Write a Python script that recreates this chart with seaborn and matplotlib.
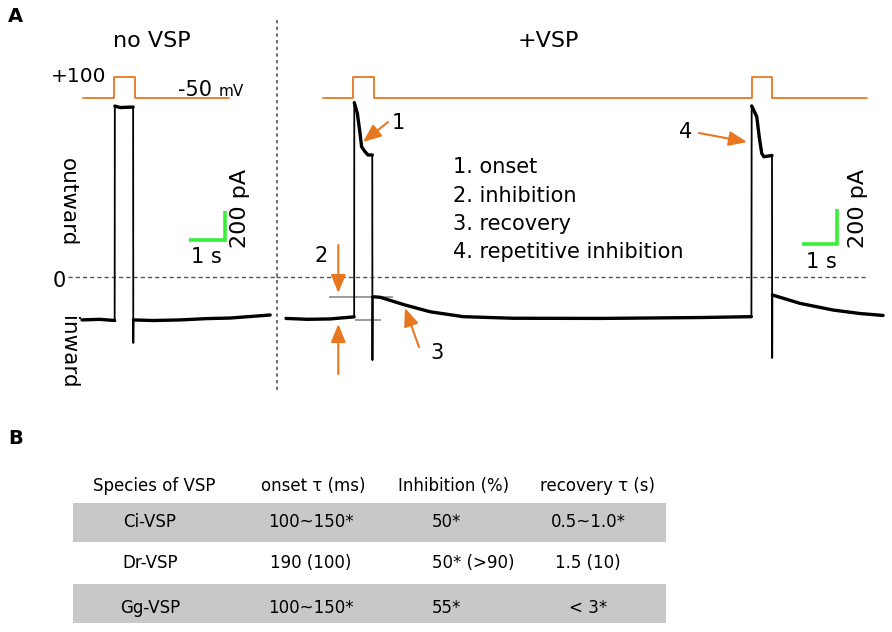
import matplotlib
matplotlib.use("Agg")
import matplotlib.pyplot as plt
import seaborn as sns

# --- Trace data (time in s, current in pA, voltage in mV) ---
no_vsp_t = [0.00, 0.50, 0.92, 0.925, 1.07, 1.44, 1.445, 1.45, 2.00, 2.76, 3.50, 4.17, 5.30]
no_vsp_i = [-294, -290, -298, 1181, 1171, 1174, -453, -294, -298, -294, -285, -281, -260]

vsp_t = [0.00, 0.60, 1.24, 1.92, 1.924, 2.01, 2.085, 2.13, 2.225, 2.31, 2.43, 2.435, 2.44,
         2.65, 3.35, 4.06, 4.99, 6.39, 8.85, 11.66, 13.11, 13.118, 13.26, 13.33, 13.40,
         13.46, 13.69, 13.695, 13.70, 14.48, 15.41, 16.17, 16.82]
vsp_i = [-235, -240, -238, -226, 998, 937, 823, 746, 718, 699, 699, -473, -111,
         -114, -158, -197, -225, -234, -235, -230, -225, 979, 918, 803, 709,
         689, 696, -461, -101, -149, -187, -207, -218]

no_vsp_v_t = [0.03, 0.91, 0.91, 1.49, 1.49, 4.14]
no_vsp_v = [-50, -50, 100, 100, -50, -50]
vsp_v_t = [1.03, 1.896, 1.896, 2.479, 2.479, 13.118, 13.118, 13.699, 13.699, 16.36]
vsp_v = [-50, -50, 100, 100, -50, -50, 100, 100, -50, -50]

# inhibition levels marked by the grey lines (pA): tail level, baseline level
inhib_levels = [-111, -244]

legend_items = ["1. onset", "2. inhibition", "3. recovery", "4. repetitive inhibition"]

# --- Table data ---
table_headers = ["Species of VSP", "onset \u03c4 (ms)", "Inhibition (%)", "recovery \u03c4 (s)"]
species = ["Ci-VSP", "Dr-VSP", "Gg-VSP"]
onset_tau = ["100~150*", "190 (100)", "100~150*"]
inhibition = ["50*", "50* (>90)", "55*"]
recovery_tau = ["0.5~1.0*", "1.5 (10)", "< 3*"]

# --- Style ---
ORANGE = "#E87722"
GREEN = "#38EF38"
DASH_GREY = "#555555"
W, H = 892, 632

sns.set_theme(style="white")
plt.rcParams["font.family"] = ["DejaVu Sans"]
plt.rcParams["text.color"] = "black"


def place_axes(fig, box, x0, px_per_s, y0, px_per_unit):
    """Axes over a pixel box, scaled so t=0 sits at x0 and 0 sits at y0."""
    left, top, right, bottom = box
    ax = fig.add_axes([left / W, 1 - bottom / H, (right - left) / W, (bottom - top) / H])
    ax.set_facecolor("none")
    return ax, ((left - x0) / px_per_s, (right - x0) / px_per_s), \
        ((y0 - bottom) / px_per_unit, (y0 - top) / px_per_unit)


def noisy_runs(t, min_dt=0.02):
    # group the slow parts of a trace (not the step edges)
    runs, cur = [], [0]
    for k in range(1, len(t)):
        if t[k] - t[k - 1] > min_dt:
            cur.append(k)
        else:
            if len(cur) > 1:
                runs.append(cur)
            cur = [k]
    if len(cur) > 1:
        runs.append(cur)
    return runs


def draw_trace(ax, t, i):
    sns.lineplot(x=t, y=i, sort=False, estimator=None, ax=ax, color="black", lw=1.3)
    for run in noisy_runs(t):
        sns.lineplot(x=[t[k] for k in run], y=[i[k] for k in run], sort=False,
                     estimator=None, ax=ax, color="black", lw=2.4)


def draw_panel(fig, box, x0, pA_scale, t, i, vt, v, zero_span, bar_at):
    ax, xl, yl = place_axes(fig, box, x0, 35.5, 277.3, pA_scale)
    ax.hlines(0, zero_span[0], zero_span[1], color=DASH_GREY, lw=1.0,
              linestyles=(0, (3, 2.2)), zorder=1)
    draw_trace(ax, t, i)
    bx, by = bar_at
    ax.plot([bx, bx + 1, bx + 1], [by, by, by + 200], color=GREEN, lw=2.6,
            solid_joinstyle="miter", solid_capstyle="butt")
    ax.set_xlim(*xl)
    ax.set_ylim(*yl)
    ax.axis("off")

    axv = ax.twinx()
    sns.lineplot(x=vt, y=v, sort=False, estimator=None, ax=axv, color=ORANGE, lw=1.3)
    left, top, right, bottom = box
    axv.set_ylim(-50 + (98.3 - bottom) / 0.1387, -50 + (98.3 - top) / 0.1387)
    axv.axis("off")
    return ax


fig = plt.figure(figsize=(W / 100, H / 100), dpi=100)

ax_left = draw_panel(fig, (55, 55, 276, 400), 82, 0.145, no_vsp_t, no_vsp_i,
                     no_vsp_v_t, no_vsp_v, (-0.39, 5.46), (3.02, 257))
ax_right = draw_panel(fig, (276, 55, 892, 400), 286, 0.175, vsp_t, vsp_i,
                      vsp_v_t, vsp_v, (-0.28, 16.37), (14.53, 190))

# grey lines marking the inhibition
ax_right.hlines(inhib_levels[0], 1.22, 3.02, color="#8a8a8a", lw=1.2, zorder=1)
ax_right.hlines(inhib_levels[1], 1.944, 2.668, color="#8a8a8a", lw=1.2, zorder=1)

# --- Overlay in pixel coordinates for labels, arrows and the table ---
ov = fig.add_axes([0, 0, 1, 1])
ov.set_xlim(0, W)
ov.set_ylim(H, 0)
ov.axis("off")

ov.plot([276.7, 276.7], [20, 392], color=DASH_GREY, lw=1.2, ls=(0, (2, 2)))

ov.text(15, 17, "A", fontsize=14, fontweight="bold", ha="center", va="center")
ov.text(16, 438, "B", fontsize=14, fontweight="bold", ha="center", va="center")
ov.text(152, 47, "no VSP", fontsize=16, ha="center", va="baseline")
ov.text(548, 47, "+VSP", fontsize=16, ha="center", va="baseline")
ov.text(79, 82, "+100", fontsize=14.5, ha="center", va="baseline")
ov.text(212, 96.5, "-50", fontsize=15, ha="right", va="baseline")
ov.text(219, 96.5, "mV", fontsize=11, ha="left", va="baseline")
ov.text(68, 202, "outward", fontsize=15.5, rotation=270, ha="center", va="center")
ov.text(68, 352, "inward", fontsize=15.5, rotation=270, ha="center", va="center")
ov.text(59, 287, "0", fontsize=15, ha="center", va="baseline")

for sx, sy in [(206, 263), (821, 268)]:
    ov.text(sx, sy, "1 s", fontsize=15, ha="center", va="baseline")
for px_, py_ in [(240, 208), (858, 208)]:
    ov.text(px_, py_, "200 pA", fontsize=16, rotation=90, ha="center", va="center")

for k, item in enumerate(legend_items):
    ov.text(453, 173.3 + 28.3 * k, item, fontsize=15, ha="left", va="baseline")

for label, (lx, ly) in zip(["1", "2", "3", "4"],
                           [(398, 123), (321, 256), (437, 353), (686, 132.5)]):
    ov.text(lx, ly, label, fontsize=15, ha="center", va="center")

arrow_kw = dict(arrowstyle="-|>,head_length=1.1,head_width=0.45", color=ORANGE,
                lw=1.5, shrinkA=0, shrinkB=0, mutation_scale=10)
for tail, tip in [((388, 122), (363, 142)), ((338.3, 245), (338.3, 293)),
                  ((338.3, 374), (338.3, 324)), ((419, 347), (405, 308)),
                  ((699, 133), (747, 142))]:
    ov.annotate("", xy=tip, xytext=tail, arrowprops=arrow_kw)

# --- Table B ---
row_base = [526.7, 568.3, 612.7]
for top, bottom in [(502.7, 541.7), (584.3, 623.3)]:
    ov.fill_between([73.3, 666], top, bottom, color="#C8C8C8", lw=0)

for hx, head in zip([154, 313, 454, 597], table_headers):
    ov.text(hx, 491, head, fontsize=12, ha="center", va="baseline")

for r in range(len(species)):
    ov.text(150, row_base[r], species[r], fontsize=12, ha="center", va="baseline")
    ov.text(311, row_base[r], onset_tau[r], fontsize=12, ha="center", va="baseline")
    ov.text(432, row_base[r], inhibition[r], fontsize=12, ha="left", va="baseline")
    ov.text(588, row_base[r], recovery_tau[r], fontsize=12, ha="center", va="baseline")

fig.savefig("out.png", dpi=100)
